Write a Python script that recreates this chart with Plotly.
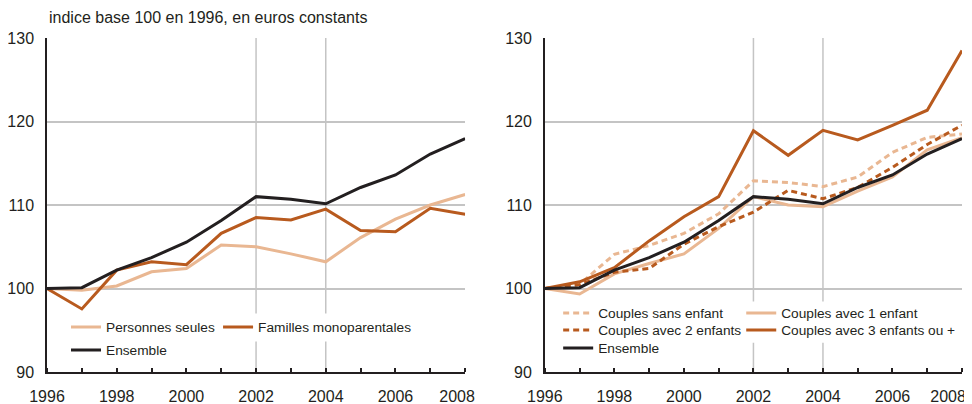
import plotly.graph_objects as go

years = list(range(1996, 2009))
label_years = [1996, 1998, 2000, 2002, 2004, 2006, 2008]

# left panel
personnes_seules = [100, 99.8, 100.3, 102.0, 102.4, 105.2, 105.0, 104.15, 103.2, 106.1, 108.3, 110.0, 111.25]
familles_mono = [100, 97.55, 102.2, 103.2, 102.85, 106.6, 108.5, 108.2, 109.5, 106.95, 106.8, 109.6, 108.9]
ensemble = [100, 100.1, 102.2, 103.7, 105.55, 108.15, 111.0, 110.7, 110.15, 112.1, 113.6, 116.1, 117.95]

# right panel
sans_enfant = [100, 100.5, 104.1, 105.15, 106.6, 108.95, 112.9, 112.7, 112.2, 113.35, 116.3, 118.1, 118.5]
un_enfant = [100, 99.35, 101.75, 103.0, 104.15, 107.2, 111.0, 110.0, 109.8, 111.65, 113.35, 116.6, 118.05]
deux_enfants = [100, 100.45, 101.95, 102.4, 105.3, 107.4, 109.15, 111.75, 110.75, 112.1, 114.5, 117.25, 119.55]
trois_enfants = [100, 100.8, 102.5, 105.7, 108.6, 111.0, 118.9, 115.95, 118.95, 117.8, 119.55, 121.35, 128.5]

y_ticks = [90, 100, 110, 120, 130]

DARK = "#b85a1e"
LIGHT = "#e9b792"
BLACK = "#231f20"
GRID = "#c4c4c4"
SANS = "Liberation Sans, Arial, sans-serif"
TICK_FONT = dict(family=SANS, size=16, color=BLACK)
LEG_FONT = dict(family=SANS, size=13.7, color=BLACK)

# the page body adds an 8px offset, so the figure is drawn 8px smaller
OFF = 8
W, H = 972 - OFF, 404 - OFF
ML, MT = 47 - OFF, 38 - OFF
MR, MB = W - (961.7 - OFF), H - (372 - OFF)
PW, PH = W - ML - MR, H - MT - MB
LEG_TEXT_OFFSET = 40  # distance from legend box left edge to its text


def px_x(px):
    return (px - OFF - ML) / PW


def px_y(py):
    return (H - MB - (py - OFF)) / PH


# each legend entry placed on its own: (text left x, text centre y) in reference pixels
entries = [
    # name, values, colour, dash, axes, legend position
    ("Personnes seules", personnes_seules, LIGHT, "solid", ("x", "y"), (106, 327)),
    ("Familles monoparentales", familles_mono, DARK, "solid", ("x", "y"), (258, 327)),
    ("Ensemble", ensemble, BLACK, "solid", ("x", "y"), (106, 350)),
    ("Couples avec 1 enfant", un_enfant, LIGHT, "solid", ("x2", "y2"), (781, 313)),
    ("Couples sans enfant", sans_enfant, LIGHT, "6px,4px", ("x2", "y2"), (598, 313)),
    ("Couples avec 2 enfants", deux_enfants, DARK, "6px,4px", ("x2", "y2"), (598, 330)),
    ("Couples avec 3 enfants ou +", trois_enfants, DARK, "solid", ("x2", "y2"), (781, 330)),
    ("Ensemble", ensemble, BLACK, "solid", ("x2", "y2"), (598, 348)),
]

fig = go.Figure()
legends = {}
for i, (name, vals, color, dash, (xa, ya), (lx, ly)) in enumerate(entries):
    key = "legend" if i == 0 else f"legend{i + 1}"
    fig.add_trace(go.Scatter(
        x=years, y=vals, name=name, mode="lines", xaxis=xa, yaxis=ya,
        line=dict(color=color, width=3, dash=dash), legend=key, hoverinfo="skip",
    ))
    legends[key] = dict(
        orientation="h", xanchor="left", yanchor="middle", bgcolor="rgba(0,0,0,0)",
        font=LEG_FONT, x=px_x(lx - LEG_TEXT_OFFSET), y=px_y(ly),
        itemclick=False, itemdoubleclick=False,
    )


def year_axis(last_label_pull):
    # labels every two years (last one pulled left to stay inside the frame),
    # small inside ticks every year
    vals = label_years[:-1] + [label_years[-1] - last_label_pull]
    return dict(
        range=[1996, 2008], tickvals=vals, ticktext=[str(y) for y in label_years],
        ticks="", showline=True, linecolor=BLACK, linewidth=1.5, showgrid=False,
        zeroline=False, tickfont=TICK_FONT, ticklabelstandoff=9,
        minor=dict(tick0=1996, dtick=1, ticks="inside", ticklen=4, tickwidth=1.5,
                   tickcolor=BLACK, showgrid=False),
    )


ycommon = dict(
    range=[90, 130], tickvals=y_ticks, ticks="", showline=True, linecolor=BLACK,
    linewidth=1.5, showgrid=True, gridcolor=GRID, gridwidth=1.5, zeroline=False,
    tickfont=TICK_FONT, ticklabelstandoff=8,
)

fig.update_layout(
    width=W, height=H,
    margin=dict(l=ML, r=MR, t=MT, b=MB, autoexpand=False),
    paper_bgcolor="white", plot_bgcolor="white",
    xaxis=dict(year_axis(0.23), domain=[0, px_x(465)], anchor="y"),
    yaxis=dict(ycommon, domain=[0, 1], anchor="x"),
    xaxis2=dict(year_axis(0.4), domain=[px_x(544.7), 1], anchor="y2"),
    yaxis2=dict(ycommon, domain=[0, 1], anchor="x2"),
    showlegend=True,
    **legends,
)

# vertical reference lines at 2002 and 2004, broken behind the legend rows
shapes = []
for xa, ya, y0, y1 in [("x", "y", 93.65, 97.0), ("x2", "y2", 93.5, 98.45)]:
    for yr in (2002, 2004):
        shapes.append(dict(type="line", xref=xa, yref=ya + " domain", x0=yr, x1=yr,
                           y0=0, y1=1, line=dict(color=GRID, width=1.5), layer="below"))
    shapes.append(dict(type="rect", xref=xa, yref=ya, x0=2001.6, x1=2004.4, y0=y0, y1=y1,
                       fillcolor="white", line=dict(width=0), layer="below"))
fig.update_layout(shapes=shapes)

fig.add_annotation(
    text="indice base 100 en 1996, en euros constants", xref="paper", yref="paper",
    x=0, y=px_y(18), xanchor="left", yanchor="middle", showarrow=False,
    font=dict(family=SANS, size=16, color=BLACK),
)

fig.write_html("out.html")
